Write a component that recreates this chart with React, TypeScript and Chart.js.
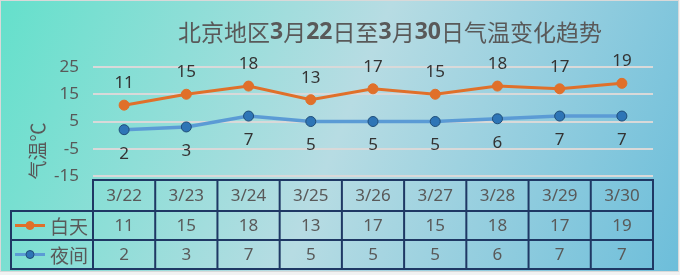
import React, { useEffect, useRef } from "react";
import { Chart, registerables } from "chart.js";

Chart.register(...registerables);

const categories = ["3/22", "3/23", "3/24", "3/25", "3/26", "3/27", "3/28", "3/29", "3/30"];
const dayTemps = [11, 15, 18, 13, 17, 15, 18, 17, 19];
const nightTemps = [2, 3, 7, 5, 5, 5, 6, 7, 7];
const seriesNames = ["白天", "夜间"];
const titleParts: [string, boolean][] = [
  ["北京地区", false],
  ["3", true],
  ["月", false],
  ["22", true],
  ["日至", false],
  ["3", true],
  ["月", false],
  ["30", true],
  ["日气温变化趋势", false],
];
const yTitle = "气温℃";
const yMin = -15;
const yMax = 25;
const yStep = 10;

const ORANGE = "#E0702A";
const BLUE_LINE = "#5B9BD5";
const BLUE_MARK = "#2E75B6";
const TEXT = "#595959";
const LABEL = "#333333";
const NAVY = "#1F3864";
const CJK = '"Noto Sans CJK SC", "Noto Sans", sans-serif';
const LAT = '"Noto Sans", "Noto Sans CJK SC", sans-serif';

const bgPlugin = {
  id: "bg",
  beforeDraw(chart: any) {
    const { ctx, width, height } = chart;
    ctx.save();
    ctx.fillStyle = "#F2F2F2";
    ctx.fillRect(0, 0, width, height);
    const g = ctx.createLinearGradient(0, 0, 678, 271);
    g.addColorStop(0, "#64E0CB");
    g.addColorStop(0.5, "#B7DCE3");
    g.addColorStop(1, "#6DBEDA");
    ctx.fillStyle = g;
    ctx.fillRect(1, 1, 677, 270);
    ctx.strokeStyle = "#D9D9D9";
    ctx.lineWidth = 1;
    ctx.strokeRect(0.5, 0.5, 678, 271);
    ctx.restore();
  },
};

const textPlugin = {
  id: "texts",
  afterDraw(chart: any) {
    const { ctx, chartArea, scales } = chart;
    ctx.save();
    // Title
    const size = 23;
    const fontFor = (bold: boolean) =>
      bold ? `bold ${size}px ${LAT}` : `${size}px ${CJK}`;
    let total = 0;
    for (const [t, b] of titleParts) {
      ctx.font = fontFor(b);
      total += ctx.measureText(t).width;
    }
    let x = 390 - total / 2;
    ctx.fillStyle = TEXT;
    ctx.textBaseline = "middle";
    ctx.textAlign = "left";
    for (const [t, b] of titleParts) {
      ctx.font = fontFor(b);
      ctx.fillText(t, x, 32);
      x += ctx.measureText(t).width;
    }
    // Y axis title
    ctx.save();
    ctx.translate(38, 151);
    ctx.rotate(-Math.PI / 2);
    ctx.font = `19px ${CJK}`;
    ctx.textAlign = "center";
    ctx.fillText(yTitle, 0, 0);
    ctx.restore();

    // Data table
    const xs = scales.x;
    const left = chartArea.left;
    const right = chartArea.right;
    const colW = (right - left) / categories.length;
    const top = 180;
    const rows = [180, 211, 240, 269];
    const legendLeft = 11;
    ctx.strokeStyle = NAVY;
    ctx.lineWidth = 2;
    ctx.beginPath();
    // header row box
    ctx.rect(left, rows[0], right - left, rows[1] - rows[0]);
    // series rows
    ctx.rect(legendLeft, rows[1], right - legendLeft, rows[3] - rows[1]);
    ctx.moveTo(legendLeft, rows[2]);
    ctx.lineTo(right, rows[2]);
    for (let i = 0; i <= categories.length; i++) {
      const cx = left + colW * i;
      ctx.moveTo(cx, top);
      ctx.lineTo(cx, rows[3]);
    }
    ctx.stroke();

    ctx.fillStyle = TEXT;
    ctx.textAlign = "center";
    ctx.textBaseline = "middle";
    ctx.font = `17px ${LAT}`;
    const series = [dayTemps, nightTemps];
    categories.forEach((c, i) => {
      const cx = xs.getPixelForValue(i);
      ctx.fillText(c, cx, (rows[0] + rows[1]) / 2 + 1);
      ctx.fillText(String(series[0][i]), cx, (rows[1] + rows[2]) / 2 + 1);
      ctx.fillText(String(series[1][i]), cx, (rows[2] + rows[3]) / 2 + 1);
    });
    // legend keys
    const keys = [
      { line: ORANGE, fill: ORANGE, border: ORANGE },
      { line: BLUE_LINE, fill: BLUE_MARK, border: "#1F4E79" },
    ];
    keys.forEach((k, r) => {
      const cy = (rows[r + 1] + rows[r + 2]) / 2;
      ctx.strokeStyle = k.line;
      ctx.lineWidth = 3;
      ctx.beginPath();
      ctx.moveTo(15, cy);
      ctx.lineTo(45, cy);
      ctx.stroke();
      ctx.beginPath();
      ctx.arc(30, cy, 4, 0, Math.PI * 2);
      ctx.fillStyle = k.fill;
      ctx.fill();
      ctx.strokeStyle = k.border;
      ctx.lineWidth = 1;
      ctx.stroke();
      ctx.fillStyle = TEXT;
      ctx.font = `19px ${CJK}`;
      ctx.textAlign = "right";
      ctx.fillText(seriesNames[r], 88, cy + 1);
    });
    ctx.restore();
  },
  afterDatasetsDraw(chart: any) {
    const { ctx } = chart;
    ctx.save();
    ctx.fillStyle = LABEL;
    ctx.font = `17px ${LAT}`;
    ctx.textAlign = "center";
    ctx.textBaseline = "middle";
    chart.data.datasets.forEach((ds: any, di: number) => {
      const meta = chart.getDatasetMeta(di);
      meta.data.forEach((pt: any, i: number) => {
        const dy = di === 0 ? -22 : 24;
        ctx.fillText(String(ds.data[i]), pt.x, pt.y + dy);
      });
    });
    ctx.restore();
  },
};

export default function App() {
  const ref = useRef<HTMLCanvasElement | null>(null);
  useEffect(() => {
    document.body.style.margin = "0";
    const canvas = ref.current!;
    const chart = new Chart(canvas, {
      type: "line",
      data: {
        labels: categories,
        datasets: [
          {
            label: seriesNames[0],
            data: dayTemps,
            borderColor: ORANGE,
            backgroundColor: ORANGE,
            borderWidth: 3,
            pointRadius: 5,
            pointBackgroundColor: ORANGE,
            pointBorderColor: ORANGE,
            pointBorderWidth: 1,
            tension: 0,
          },
          {
            label: seriesNames[1],
            data: nightTemps,
            borderColor: BLUE_LINE,
            backgroundColor: BLUE_MARK,
            borderWidth: 3.5,
            pointRadius: 5,
            pointBackgroundColor: BLUE_MARK,
            pointBorderColor: "#1F4E79",
            pointBorderWidth: 1,
            tension: 0,
          },
        ],
      },
      options: {
        responsive: false,
        maintainAspectRatio: false,
        animation: false,
        layout: { padding: { top: 67, right: 27, left: 0, bottom: 0 } },
        plugins: {
          legend: { display: false },
          title: { display: false },
          tooltip: { enabled: false },
        },
        scales: {
          x: {
            type: "category",
            offset: true,
            grid: { display: false },
            border: { display: false },
            ticks: { display: false },
            afterFit: (s: any) => {
              s.height = 99;
            },
          },
          y: {
            min: yMin,
            max: yMax,
            grid: { color: "#D9D9D9", lineWidth: 2, drawTicks: false },
            border: { display: false },
            ticks: {
              stepSize: yStep,
              color: TEXT,
              font: { size: 17, family: LAT },
              padding: 14,
            },
            afterFit: (s: any) => {
              s.width = 93;
            },
          },
        },
      },
      plugins: [bgPlugin, textPlugin],
    });
    return () => chart.destroy();
  }, []);
  return (
    <div style={{ position: "absolute", left: 0, top: 0, width: 680, height: 275 }}>
      <canvas ref={ref} width={680} height={275} style={{ width: 680, height: 275 }} />
    </div>
  );
}
